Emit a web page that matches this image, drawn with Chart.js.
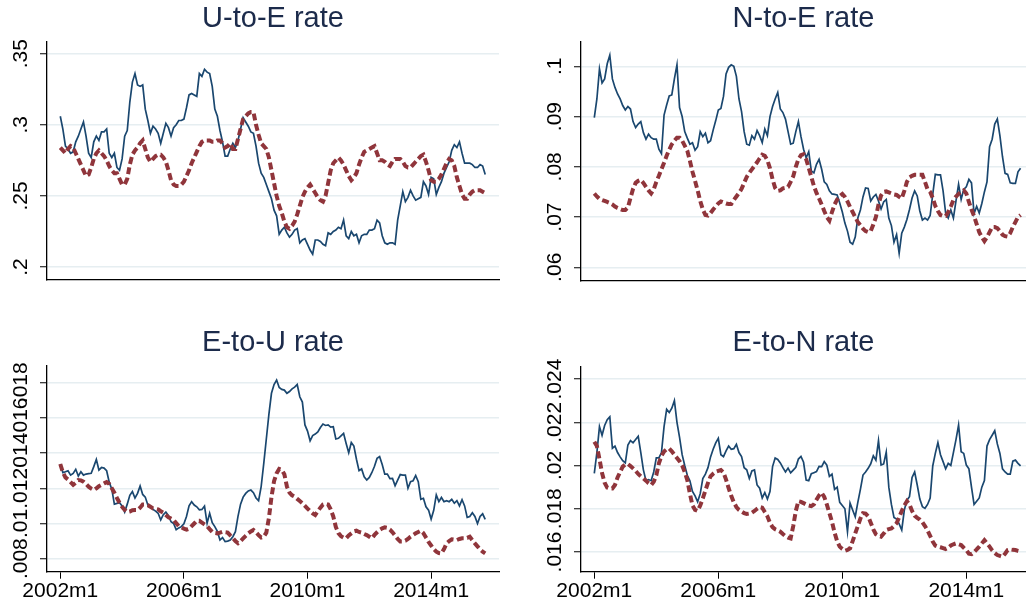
<!DOCTYPE html>
<html>
<head>
<meta charset="utf-8">
<title>Transition rates</title>
<script src="https://cdn.jsdelivr.net/npm/chart.js@4/dist/chart.umd.min.js"></script>
<style>
  html, body { margin: 0; padding: 0; background: #fff; }
  #wrap { position: relative; width: 1026px; height: 604px; overflow: hidden; }
  .panel { position: absolute; }
  .panel canvas { display: block; }
</style>
</head>
<body>
<div id="wrap">
  <div class="panel" style="left:0;top:0"><canvas id="ue" width="546" height="303"></canvas></div>
  <div class="panel" style="left:513px;top:0"><canvas id="ne" width="581" height="303"></canvas></div>
  <div class="panel" style="left:0;top:303px"><canvas id="eu" width="546" height="301"></canvas></div>
  <div class="panel" style="left:513px;top:303px"><canvas id="en" width="581" height="301"></canvas></div>
</div>
<script>
// monthly series, 2002m1 .. 2015m10 (one row per year)
const ueBlue = [
  .306,.297,.285,.283,.280,.281,.288,.292,.297,.302,.292,.280,
  .277,.288,.292,.289,.295,.295,.297,.280,.277,.280,.270,.268,
  .276,.292,.296,.316,.330,.336,.328,.327,.328,.311,.303,.294,
  .299,.297,.294,.287,.294,.301,.298,.292,.298,.300,.303,.303,
  .304,.312,.321,.322,.321,.320,.336,.334,.339,.337,.336,.327,
  .311,.306,.296,.288,.278,.278,.283,.287,.284,.289,.297,.305,
  .302,.299,.295,.294,.285,.273,.266,.263,.258,.253,.248,.240,
  .236,.223,.226,.228,.224,.221,.223,.226,.227,.217,.219,.220,
  .216,.212,.209,.219,.219,.218,.216,.215,.224,.223,.225,.226,
  .228,.227,.233,.222,.220,.225,.222,.223,.217,.222,.223,.223,
  .226,.226,.227,.233,.231,.222,.217,.216,.217,.217,.216,.233,
  .243,.253,.246,.249,.254,.250,.247,.248,.249,.260,.257,.251,
  .263,.262,.251,.256,.260,.266,.270,.274,.282,.286,.284,.288,
  .280,.273,.273,.273,.272,.270,.270,.272,.271,.265
];
const ueRed = [
  .284,.282,.280,.283,.285,.284,.280,.276,.272,.268,.264,.265,
  .270,.276,.280,.282,.280,.278,.275,.271,.268,.266,.266,.262,
  .258,.258,.262,.272,.279,.282,.284,.287,.289,.283,.277,.274,
  .276,.278,.279,.279,.277,.274,.268,.261,.258,.257,.257,.258,
  .260,.264,.268,.273,.277,.281,.285,.288,.289,.289,.289,.288,
  .288,.289,.289,.287,.284,.285,.287,.283,.283,.290,.297,.304,
  .306,.308,.309,.309,.300,.293,.287,.285,.283,.277,.268,.259,
  .250,.243,.238,.232,.228,.227,.229,.232,.237,.243,.249,.253,
  .256,.258,.255,.252,.249,.247,.246,.250,.259,.268,.273,.275,
  .277,.275,.272,.268,.264,.261,.263,.266,.272,.277,.281,.282,
  .283,.284,.285,.280,.275,.275,.274,.272,.271,.274,.276,.276,
  .276,.274,.271,.270,.270,.272,.274,.276,.278,.279,.274,.268,
  .261,.260,.260,.262,.265,.269,.273,.276,.275,.271,.263,.257,
  .251,.248,.248,.251,.253,.254,.254,.254,.253,.252
];
const neBlue = [
  .0898,.0935,.0995,.0967,.0975,.1005,.1022,.0975,.0958,.0945,.0935,.0922,
  .0913,.0920,.0915,.0890,.0878,.0885,.0890,.0868,.0855,.0865,.0858,.0855,
  .0855,.0835,.0826,.0903,.0923,.0941,.0943,.0975,.1003,.0918,.0900,.0870,
  .0857,.0845,.0848,.0833,.0840,.0870,.0860,.0867,.0848,.0852,.0873,.0892,
  .0913,.0916,.0940,.0985,.0998,.1003,.1000,.0980,.0935,.0910,.0870,.0845,
  .0843,.0862,.0855,.0872,.0862,.0848,.0875,.0862,.0900,.0920,.0935,.0948,
  .0915,.0908,.0895,.0870,.0845,.0847,.0870,.0890,.0860,.0835,.0818,.0830,
  .0792,.0788,.0805,.0815,.0795,.0770,.0765,.0752,.0746,.0745,.0744,.0728,
  .0710,.0688,.0672,.0650,.0646,.0660,.0698,.0714,.0740,.0758,.0757,.0732,
  .0740,.0745,.0732,.0716,.0730,.0735,.0698,.0683,.0650,.0665,.0628,.0668,
  .0680,.0695,.0715,.0738,.0752,.0742,.0712,.0694,.0698,.0694,.0703,.0745,
  .0785,.0784,.0784,.0752,.0708,.0698,.0714,.0698,.0732,.0765,.0735,.0755,
  .0760,.0775,.0768,.0707,.0721,.0708,.0727,.0750,.0770,.0840,.0855,.0885,
  .0895,.0862,.0820,.0787,.0785,.0768,.0767,.0767,.0790,.0797
];
const neRed = [
  .0747,.0741,.0736,.0734,.0732,.0730,.0728,.0725,.0721,.0718,.0716,.0714,
  .0714,.0719,.0738,.0756,.0768,.0772,.0774,.0768,.0760,.0753,.0747,.0755,
  .0770,.0782,.0795,.0808,.0822,.0834,.0845,.0852,.0858,.0858,.0852,.0842,
  .0832,.0812,.0790,.0772,.0753,.0732,.0715,.0704,.0703,.0708,.0715,.0721,
  .0727,.0731,.0729,.0727,.0726,.0726,.0734,.0741,.0748,.0756,.0768,.0780,
  .0788,.0795,.0802,.0809,.0817,.0824,.0822,.0813,.0797,.0775,.0758,.0752,
  .0753,.0757,.0758,.0760,.0770,.0781,.0800,.0815,.0823,.0825,.0815,.0798,
  .0780,.0762,.0748,.0737,.0725,.0712,.0700,.0693,.0710,.0725,.0735,.0742,
  .0746,.0740,.0731,.0720,.0710,.0700,.0690,.0684,.0677,.0672,.0670,.0672,
  .0685,.0700,.0725,.0743,.0750,.0751,.0749,.0747,.0745,.0744,.0740,.0737,
  .0752,.0770,.0779,.0782,.0784,.0784,.0784,.0784,.0770,.0755,.0750,.0738,
  .0722,.0712,.0704,.0702,.0702,.0710,.0721,.0734,.0741,.0746,.0750,.0753,
  .0747,.0730,.0715,.0702,.0686,.0670,.0660,.0652,.0660,.0670,.0680,.0680,
  .0678,.0672,.0665,.0662,.0661,.0668,.0680,.0690,.0700,.0704
];
const euBlue = [
  .01338,.01289,.01294,.01300,.01275,.01285,.01308,.01270,.01294,.01275,.01281,.01283,
  .01285,.01323,.01364,.01304,.01318,.01315,.01300,.01235,.01195,.01110,.01114,.01118,
  .01100,.01065,.01110,.01160,.01181,.01145,.01171,.01213,.01165,.01150,.01105,.01097,
  .01080,.01070,.01058,.01020,.01050,.01065,.01045,.01010,.01000,.00965,.00975,.00982,
  .00998,.01040,.01100,.01124,.01105,.01095,.01078,.01080,.01099,.01001,.01058,.01005,
  .00982,.00955,.00906,.00920,.00897,.00900,.00906,.00925,.00953,.01040,.01110,.01150,
  .01171,.01185,.01190,.01175,.01145,.01130,.01210,.01340,.01480,.01620,.01740,.01790,
  .01815,.01773,.01762,.01758,.01740,.01750,.01765,.01775,.01790,.01720,.01690,.01560,
  .01525,.01470,.01500,.01508,.01520,.01545,.01565,.01557,.01560,.01548,.01550,.01480,
  .01484,.01498,.01512,.01455,.01402,.01460,.01440,.01365,.01300,.01310,.01265,.01247,
  .01262,.01290,.01325,.01370,.01380,.01335,.01280,.01281,.01255,.01256,.01215,.01247,
  .01278,.01275,.01275,.01200,.01238,.01243,.01273,.01238,.01137,.01143,.01095,.01076,
  .01025,.01075,.01162,.01124,.01148,.01124,.01130,.01124,.01137,.01115,.01130,.01100,
  .01135,.01100,.01035,.01040,.01061,.01040,.01000,.01040,.01055,.01023
];
const euRed = [
  .01338,.01290,.01262,.01250,.01235,.01220,.01232,.01247,.01245,.01238,.01225,.01209,
  .01198,.01190,.01200,.01212,.01220,.01228,.01235,.01225,.01200,.01175,.01145,.01118,
  .01095,.01078,.01065,.01068,.01075,.01076,.01076,.01090,.01108,.01108,.01104,.01095,
  .01086,.01083,.01080,.01070,.01062,.01048,.01035,.01028,.01020,.01002,.00985,.00978,
  .00970,.00965,.00970,.00985,.01000,.01015,.01015,.01005,.00995,.00985,.00968,.00952,
  .00946,.00944,.00948,.00953,.00950,.00948,.00932,.00918,.00900,.00888,.00900,.00915,
  .00930,.00944,.00955,.00963,.00950,.00934,.00920,.00925,.00948,.01030,.01150,.01240,
  .01285,.01310,.01305,.01280,.01210,.01175,.01160,.01152,.01140,.01128,.01115,.01100,
  .01085,.01070,.01058,.01048,.01070,.01090,.01108,.01112,.01108,.01080,.01040,.00980,
  .00945,.00928,.00920,.00916,.00932,.00944,.00955,.00959,.00952,.00948,.00940,.00934,
  .00925,.00916,.00935,.00950,.00963,.00972,.00978,.00975,.00965,.00950,.00932,.00912,
  .00898,.00898,.00902,.00912,.00925,.00935,.00944,.00952,.00959,.00945,.00920,.00895,
  .00875,.00855,.00840,.00832,.00830,.00855,.00887,.00900,.00910,.00908,.00906,.00912,
  .00916,.00916,.00918,.00925,.00905,.00887,.00870,.00853,.00840,.00830
];
const enBlue = [
  .01964,.02060,.02180,.02140,.02185,.02212,.02225,.02080,.02090,.02060,.02040,.02022,
  .02012,.02095,.02115,.02105,.02120,.02135,.02060,.01980,.01930,.01935,.01930,.01970,
  .02035,.02035,.02060,.02180,.02260,.02245,.02265,.02300,.02200,.02130,.02050,.02000,
  .01955,.01930,.01880,.01860,.01832,.01870,.01940,.01960,.01990,.02040,.02075,.02105,
  .02126,.02050,.02041,.02068,.02090,.02075,.02078,.02098,.02060,.02041,.01990,.01980,
  .01940,.01975,.01980,.01910,.01895,.01850,.01875,.01845,.01880,.01995,.02035,.02028,
  .02012,.01990,.01970,.01988,.01966,.01979,.01992,.02030,.02042,.02015,.01933,.01930,
  .01962,.01967,.01972,.01996,.01995,.02018,.02002,.01950,.01960,.01890,.01900,.01830,
  .01815,.01800,.01694,.01826,.01794,.01763,.01830,.01890,.01956,.01970,.01987,.02008,
  .02045,.02025,.02115,.02002,.02007,.02062,.01900,.01820,.01760,.01752,.01730,.01702,
  .01794,.01840,.01856,.01945,.01970,.01910,.01845,.01810,.01802,.01820,.01850,.01998,
  .02056,.02106,.02050,.02018,.01985,.02010,.02000,.02060,.02120,.02187,.02064,.02056,
  .02002,.01985,.01900,.01820,.01835,.01850,.01900,.01930,.02090,.02120,.02140,.02161,
  .02100,.02056,.01985,.01970,.01960,.01960,.02020,.02025,.02010,.01998
];
const enRed = [
  .02110,.02090,.02030,.01965,.01920,.01898,.01894,.01894,.01910,.01945,.01970,.01995,
  .02005,.02007,.01998,.01987,.01975,.01961,.01950,.01941,.01930,.01918,.01910,.01925,
  .01955,.02010,.02045,.02065,.02075,.02078,.02066,.02050,.02035,.02020,.02000,.01970,
  .01933,.01870,.01815,.01795,.01790,.01815,.01848,.01885,.01920,.01950,.01962,.01971,
  .01975,.01979,.01968,.01935,.01895,.01860,.01830,.01808,.01795,.01787,.01780,.01776,
  .01778,.01782,.01790,.01800,.01808,.01805,.01785,.01765,.01735,.01715,.01705,.01700,
  .01694,.01683,.01673,.01667,.01663,.01720,.01790,.01835,.01832,.01826,.01820,.01815,
  .01812,.01820,.01842,.01862,.01874,.01855,.01820,.01780,.01740,.01690,.01650,.01625,
  .01614,.01606,.01610,.01617,.01650,.01686,.01720,.01755,.01780,.01778,.01765,.01735,
  .01705,.01682,.01675,.01671,.01685,.01702,.01706,.01709,.01720,.01733,.01760,.01790,
  .01815,.01835,.01820,.01790,.01768,.01758,.01750,.01738,.01720,.01700,.01675,.01648,
  .01630,.01625,.01622,.01618,.01614,.01620,.01630,.01636,.01640,.01636,.01632,.01620,
  .01609,.01592,.01590,.01600,.01612,.01625,.01640,.01655,.01640,.01625,.01608,.01595,
  .01586,.01582,.01578,.01592,.01609,.01612,.01610,.01609,.01605,.01602
];

// month categories
const months = [];
for (let y = 2002; months.length < ueBlue.length; y++) {
  for (let m = 1; m <= 12 && months.length < ueBlue.length; m++) months.push(y + 'm' + m);
}
const xTickLabels = ['2002m1', '2006m1', '2010m1', '2014m1'];
const xTickPos = xTickLabels.map(l => months.indexOf(l));

// y tick values and labels per panel
const ueTicks = [.2, .25, .3, .35],            ueLabels = ['.2', '.25', '.3', '.35'];
const neTicks = [.06, .07, .08, .09, .1],      neLabels = ['.06', '.07', '.08', '.09', '.1'];
const euTicks = [.008, .01, .012, .014, .016, .018], euLabels = ['.008', '.01', '.012', '.014', '.016', '.018'];
const enTicks = [.016, .018, .02, .022, .024], enLabels = ['.016', '.018', '.02', '.022', '.024'];

const FONT = '"Liberation Sans", Arial, sans-serif';
const BLUE = '#1a476f';
const RED = '#90353b';
const GRID = '#e6eef1';
const TITLE = '#1c2b4b';

function panel(id, title, blue, red, yTicks, yLabels, yMin, yMax, g) {
    const ctx = document.getElementById(id);
    const pts = arr => arr.map((v, i) => ({ x: i, y: v }));
    return new Chart(ctx, {
        type: 'line',
        data: {
            datasets: [
                { data: pts(red), borderColor: RED, borderWidth: 4, borderDash: [7, 3.5], borderCapStyle: 'butt', pointRadius: 0, tension: 0 },
                { data: pts(blue), borderColor: BLUE, borderWidth: 1.7, pointRadius: 0, tension: 0 }
            ]
        },
        options: {
            responsive: false,
            animation: false,
            events: [],
            plugins: {
                legend: { display: false },
                tooltip: { enabled: false },
                title: {
                    display: true, text: title, color: TITLE,
                    font: { family: FONT, size: 29, weight: 'normal' },
                    padding: { top: g.titleTop, bottom: g.titleBottom }
                }
            },
            scales: {
                x: {
                    type: 'linear', min: g.xMin, max: g.xMax,
                    afterFit: s => { s.height = g.xHeight; },
                    afterBuildTicks: s => { s.ticks = xTickPos.map(v => ({ value: v })); },
                    grid: { display: g.showX, drawOnChartArea: false, tickLength: 7, tickColor: '#000', tickWidth: 1 },
                    border: { display: true, color: '#000', width: 1.3 },
                    ticks: {
                        display: g.showX, autoSkip: false, maxRotation: 0, padding: 0, color: '#000',
                        font: { family: FONT, size: 21 },
                        callback: (v, i) => xTickLabels[i]
                    }
                },
                y: {
                    min: yMin, max: yMax,
                    afterFit: s => { s.width = g.yWidth; },
                    afterBuildTicks: s => { s.ticks = yTicks.map(v => ({ value: v })); },
                    grid: { color: GRID, lineWidth: 1.5, tickLength: 7, tickColor: '#000', tickWidth: 1 },
                    border: { display: true, color: '#000', width: 1.3 },
                    ticks: {
                        autoSkip: false, minRotation: 90, maxRotation: 90, crossAlign: 'center',
                        padding: g.labelPad, color: '#000',
                        font: { family: FONT, size: 21 },
                        callback: (v, i) => yLabels[i]
                    }
                },
                // empty right-hand box so the title centres over the plot region
                yPad: {
                    position: 'right',
                    afterFit: s => { s.width = g.yWidth; },
                    grid: { display: false },
                    border: { display: false },
                    ticks: { display: false }
                }
            }
        }
    });
}

const topL = { yWidth: 47, titleTop: 1.5, titleBottom: 5.4, xHeight: 23, xMin: -5.16, xMax: 170.35, showX: false, labelPad: 4 };
const topR = { yWidth: 68, titleTop: 1.5, titleBottom: 5.4, xHeight: 22.3, xMin: -5.15, xMax: 167.1, showX: false, labelPad: 4 };
const botL = { yWidth: 47, titleTop: 22.8, titleBottom: 5.4, xHeight: 32.3, xMin: -5.16, xMax: 170.35, showX: true, labelPad: -1.5 };
const botR = { yWidth: 68, titleTop: 22.8, titleBottom: 6.1, xHeight: 32.3, xMin: -5.15, xMax: 167.1, showX: true, labelPad: -1.5 };

panel('ue', 'U-to-E rate', ueBlue, ueRed, ueTicks, ueLabels, 0.1909, 0.3584, topL);
panel('ne', 'N-to-E rate', neBlue, neRed, neTicks, neLabels, 0.05733, 0.1049, topR);
panel('eu', 'E-to-U rate', euBlue, euRed, euTicks, euLabels, 0.00726, 0.01895, botL);
panel('en', 'E-to-N rate', enBlue, enRed, enTicks, enLabels, 0.01509, 0.02457, botR);
</script>
</body>
</html>
